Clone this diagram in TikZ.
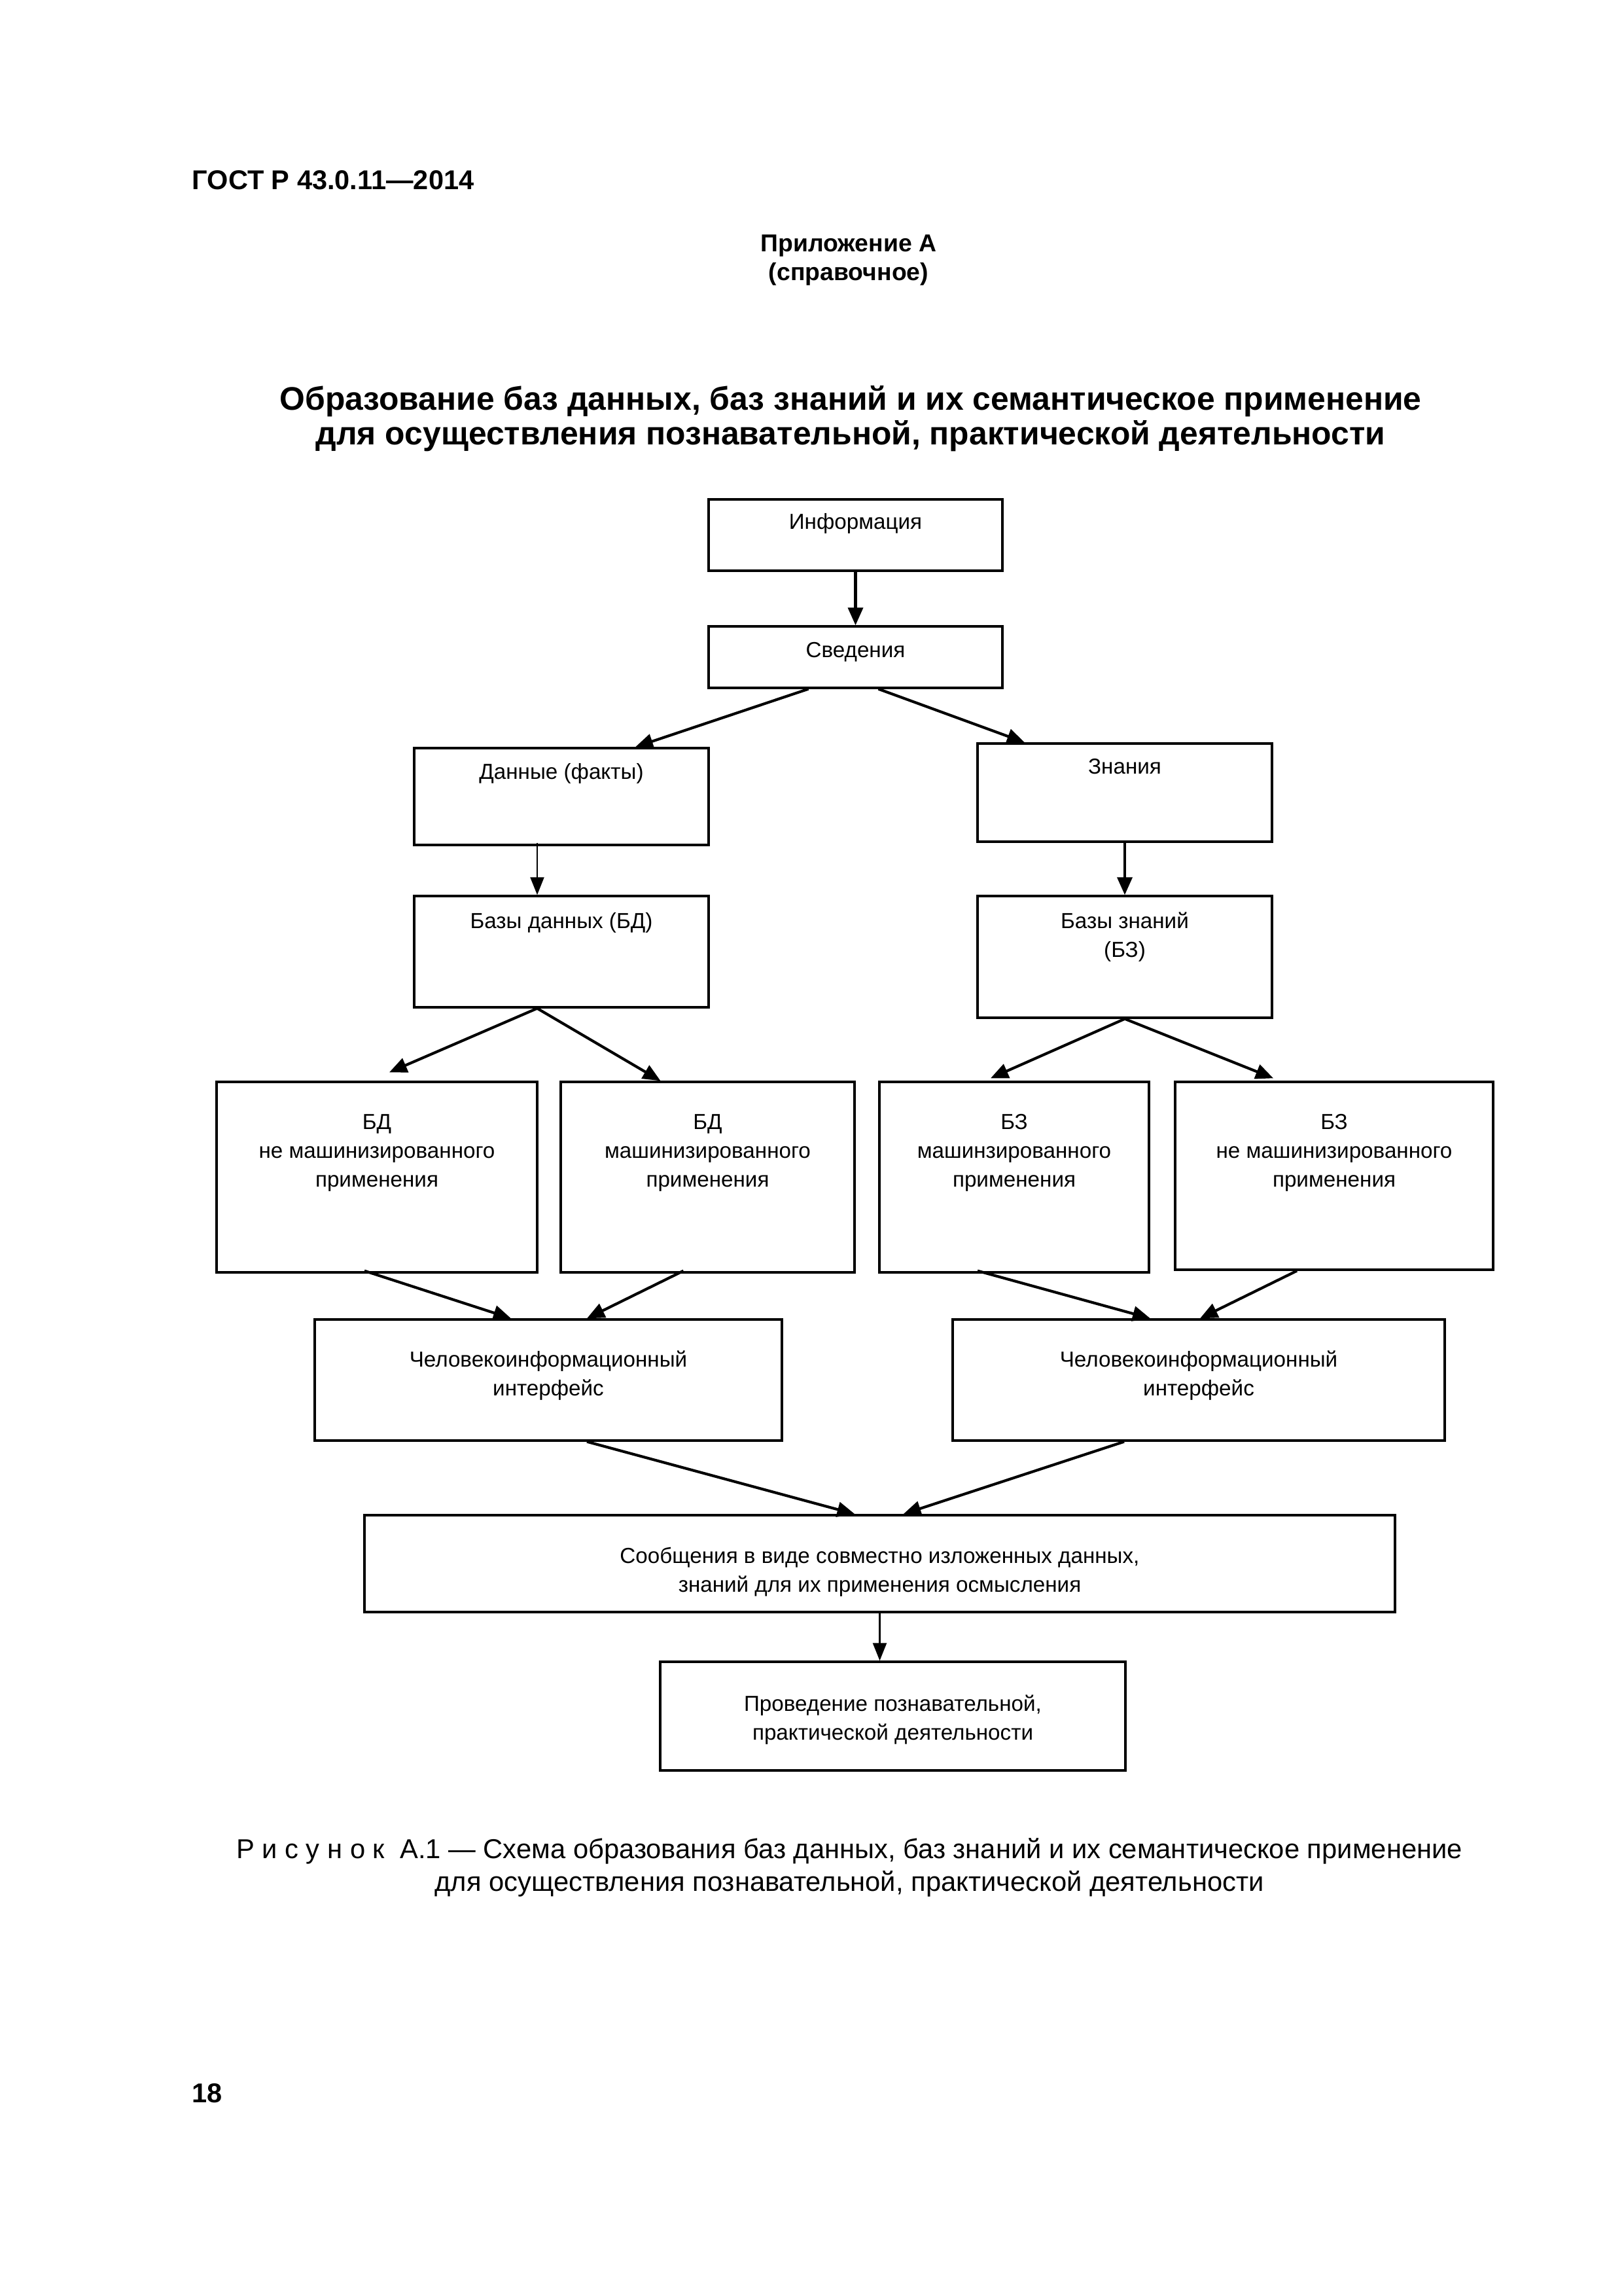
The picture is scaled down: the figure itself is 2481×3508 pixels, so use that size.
\documentclass[tikz,border=0pt]{standalone}
\usepackage{fontspec}
\setmainfont{Liberation Sans}
\usetikzlibrary{arrows.meta,calc,fit}
\begin{document}
\begin{tikzpicture}[x=0.24088pt,y=-0.24088pt,
  gbox/.style={draw,line width=0.8pt,inner sep=0pt},
  btxt/.style={anchor=north,inner sep=0pt,align=center,font=\fontsize{8}{10.6}\selectfont},
  arr/.style={line width=1pt,-{Triangle[length=6.5pt,width=5.5pt]}},
  arrt/.style={line width=0.7pt,-{Triangle[length=6.5pt,width=5pt]}}]
\fill[white] (0,0) rectangle (2481,3508);
\useasboundingbox (0,0) rectangle (2481,3508);

% page texts
\node[anchor=base west,inner sep=0pt,font=\fontsize{10}{12}\selectfont\bfseries] (hdr) at (293,290) {ГОСТ Р 43.0.11—2014};
\node[anchor=base,inner sep=0pt,align=center,font=\fontsize{9}{10.8}\selectfont\bfseries] (app) at (1297,429) {Приложение А\\(справочное)};
\node[anchor=base,inner sep=0pt,align=center,font=\fontsize{12}{13}\selectfont\bfseries] (title) at (1300,680) {Образование баз данных, баз знаний и их семантическое применение\\для осуществления познавательной, практической деятельности};
\node[anchor=base,inner sep=0pt,align=center,font=\fontsize{10.05}{12}\selectfont] (cap) at (1298,2889) {Р и с у н о к\ \ А.1 — Схема образования баз данных, баз знаний и их семантическое применение\\для осуществления познавательной, практической деятельности};
\node[anchor=base west,inner sep=0pt,font=\fontsize{10}{12}\selectfont\bfseries] (pg) at (293,3212) {18};

% boxes
\node[gbox,fit={(1083,763) (1532,872)}] (info) {};
\node[gbox,fit={(1083,957) (1532,1051)}] (sved) {};
\node[gbox,fit={(633,1143) (1083,1291)}] (dann) {};
\node[gbox,fit={(1494,1136) (1944,1286)}] (znan) {};
\node[gbox,fit={(633,1369) (1083,1539)}] (bd) {};
\node[gbox,fit={(1494,1369) (1944,1555)}] (bz) {};
\node[gbox,fit={(331,1653) (821,1944)}] (b1) {};
\node[gbox,fit={(857,1653) (1306,1944)}] (b2) {};
\node[gbox,fit={(1344,1653) (1756,1944)}] (b3) {};
\node[gbox,fit={(1796,1653) (2282,1940)}] (b4) {};
\node[gbox,fit={(481,2016) (1195,2201)}] (chi1) {};
\node[gbox,fit={(1456,2016) (2208,2201)}] (chi2) {};
\node[gbox,fit={(557,2315) (2132,2463)}] (soob) {};
\node[gbox,fit={(1009,2539) (1720,2705)}] (prov) {};

% box texts
\node[btxt] (infot) at ($(info.north)+(0,22)$) {Информация};
\node[btxt] (svedt) at ($(sved.north)+(0,25)$) {Сведения};
\node[btxt] (dannt) at ($(dann.north)+(0,24)$) {Данные (факты)};
\node[btxt] (znant) at ($(znan.north)+(0,24)$) {Знания};
\node[btxt] (bdt) at ($(bd.north)+(0,26)$) {Базы данных (БД)};
\node[btxt] (bzt) at ($(bz.north)+(0,26)$) {Базы знаний\\(БЗ)};
\node[btxt] (b1t) at ($(b1.north)+(0,50)$) {БД\\не машинизированного\\применения};
\node[btxt] (b2t) at ($(b2.north)+(0,50)$) {БД\\машинизированного\\применения};
\node[btxt] (b3t) at ($(b3.north)+(0,50)$) {БЗ\\машинзированного\\применения};
\node[btxt] (b4t) at ($(b4.north)+(0,50)$) {БЗ\\не машинизированного\\применения};
\node[btxt] (chi1t) at ($(chi1.north)+(0,49)$) {Человекоинформационный\\интерфейс};
\node[btxt] (chi2t) at ($(chi2.north)+(0,49)$) {Человекоинформационный\\интерфейс};
\node[btxt] (soobt) at ($(soob.north)+(0,50)$) {Сообщения в виде совместно изложенных данных,\\знаний для их применения осмысления};
\node[btxt] (provt) at ($(prov.north)+(0,52)$) {Проведение познавательной,\\практической деятельности};

% connectors
\draw[arr] (info.south) -- (sved.north);
\draw[arr] ($(sved.south)+(-72,0)$) -- ($(dann.north)+(113,0)$);
\draw[arr] ($(sved.south)+(35,0)$) -- ($(znan.north)+(-153,0)$);
\draw[arrt] ($(dann.south)+(-37,-5)$) -- ($(bd.north)+(-37,0)$);
\draw[arr] (znan.south) -- (bz.north);
\draw[arr] ($(bd.south)+(-37,0)$) -- ($(b1.north)+(19,-13)$);
\draw[arr] ($(bd.south)+(-37,0)$) -- ($(b2.north)+(-72,0)$);
\draw[arr] (bz.south) -- ($(b3.north)+(-36,-4)$);
\draw[arr] (bz.south) -- ($(b4.north)+(-93,-4)$);
\draw[arr] ($(b1.south)+(-19,-4)$) -- ($(chi1.north)+(-57,0)$);
\draw[arr] ($(b2.south)+(-37,-4)$) -- ($(chi1.north)+(59,0)$);
\draw[arr] ($(b3.south)+(-56,-4)$) -- ($(chi2.north)+(-74,0)$);
\draw[arr] ($(b4.south)+(-57,0)$) -- ($(chi2.north)+(2,0)$);
\draw[arr] ($(chi1.south)+(59,0)$) -- ($(soob.north)+(-38,0)$);
\draw[arr] ($(chi2.south)+(-114,0)$) -- ($(soob.north)+(36,0)$);
\draw[arrt] (soob.south) -- (soob.south |- prov.north);
\end{tikzpicture}
\end{document}
